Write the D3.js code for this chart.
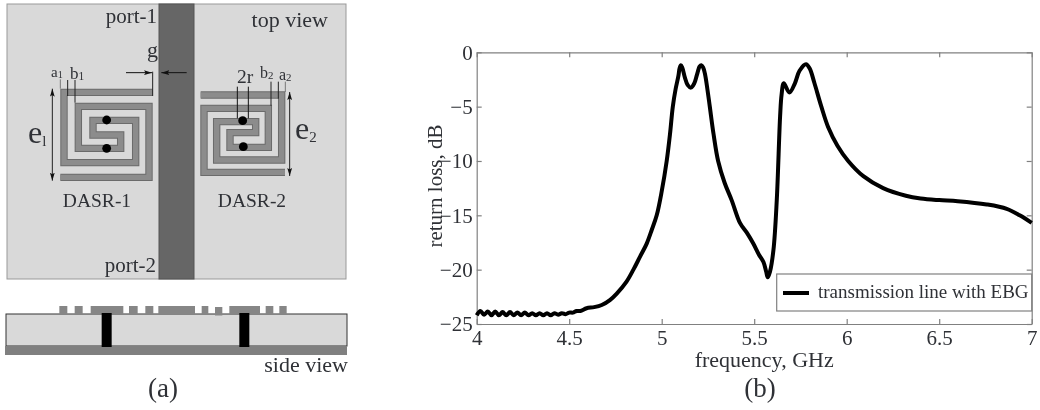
<!DOCTYPE html>
<html lang="en">
<head>
<meta charset="UTF-8">
<title>EBG transmission line</title>
<script src="https://cdn.jsdelivr.net/npm/d3@7"></script>
<style>
  html, body { margin: 0; padding: 0; background: #fff; }
  svg { display: block; filter: blur(0.45px); }
  text { font-family: "Liberation Serif", serif; fill: #2f3136; }
</style>
</head>
<body>
<script>
// curve
var frequency = [4.00,4.02,4.04,4.06,4.08,4.10,4.12,4.14,4.16,4.18,4.20,4.22,4.24,4.26,4.28,4.30,
  4.32,4.34,4.36,4.38,4.40,4.42,4.44,4.46,4.48,4.50,4.52,4.54,4.56,4.594,4.635,4.676,4.72,4.757,4.81,
  4.847,4.883,4.919,4.946,4.973,5.00,5.027,5.045,5.06,5.075,5.09,5.097,5.104,5.111,5.125,5.14,5.158,5.175,5.19,5.205,5.214,5.224,5.234,5.247,
  5.26,5.28,5.305,5.34,5.378,5.423,5.46,5.495,5.525,5.55,5.565,5.573,5.585,5.604,5.622,5.64,5.648,5.66,5.69,
  5.72,5.745,5.78,5.80,5.825,5.863,5.90,5.95,6.008,6.09,6.197,6.32,6.40,6.50,6.60,6.757,6.865,6.935,7.0];
var returnLoss = [-24.2,-23.8,-24.15,-23.85,-24.2,-23.85,-24.2,-23.9,-24.2,-23.9,-24.2,-23.95,-24.2,-23.95,-24.2,-24.0,
  -24.2,-24.0,-24.2,-24.0,-24.2,-24.0,-24.15,-24.0,-24.1,-23.95,-23.95,-23.8,-23.8,-23.55,-23.45,-23.25,-22.8,-22.2,-21.1,
  -20.0,-18.8,-17.6,-16.35,-15.0,-12.8,-10.0,-7.5,-5.0,-3.4,-2.2,-1.45,-1.2,-1.4,-2.3,-3.0,-3.25,-2.9,-2.1,-1.3,-1.2,-1.4,-2.0,-3.4,
  -5.0,-7.5,-10.0,-12.0,-13.6,-15.7,-16.6,-17.6,-18.6,-19.3,-20.2,-20.7,-20.2,-18.2,-13.6,-5.9,-3.9,-2.85,-3.7,
  -2.85,-1.7,-1.1,-1.5,-2.8,-5.0,-6.9,-8.6,-10.0,-11.4,-12.5,-13.2,-13.45,-13.6,-13.7,-14.0,-14.4,-15.0,-15.7];
var xTicks = [4, 4.5, 5, 5.5, 6, 6.5, 7];
var yTicks = [0, -5, -10, -15, -20, -25];
var legendLabel = "transmission line with EBG";

// one continuous conductor each, centre lines of the double spirals
var spiral1 = [[458,277],[192,277],[192,488],[407,488],[407,361],[279,361],[279,405],[362,405],[362,445],[235,445],[235,319],[447,319],[447,532],[181,532]];
var spiral2 = [[602,285],[845,285],[845,480],[650,480],[650,365],[767,365],[767,398],[690,398],[690,442],[805,442],[805,325],[612,325],[612,517],[855,517]];
var sideStrips = [[178,202],[224,248],[272,370],[387,413],[436,460],[475,585],[605,625],[645,667],[688,780],[797,820],[838,860]];

var w = 1040, h = 410;
var svg = d3.select("body").append("svg").attr("width", w).attr("height", h);

svg.append("defs").selectAll("marker").data(["end", "start"]).enter().append("marker")
  .attr("id", d => "arrow-" + d)
  .attr("viewBox", "0 0 10 6").attr("refX", d => d == "end" ? 10 : 0).attr("refY", 3)
  .attr("markerWidth", 8).attr("markerHeight", 5).attr("markerUnits", "userSpaceOnUse")
  .attr("orient", "auto")
  .append("path")
  .attr("d", d => d == "end" ? "M0,0L10,3L0,6L2,3Z" : "M10,0L0,3L10,6L8,3Z")
  .attr("fill", "#111");

// ---- panel (a), the reference was measured in 3x zoom so divide by 3
var u = d3.scaleLinear().domain([0, 3]).range([0, 1]);
var a = svg.append("g");
var spiralLine = d3.line().x(d => u(d[0])).y(d => u(d[1]));

a.append("rect").attr("x", 7).attr("y", 4).attr("width", 339).attr("height", 275)
  .attr("fill", "#d9d9d9").attr("stroke", "#999");
a.append("rect").attr("x", 159).attr("y", 4).attr("width", 35).attr("height", 275)
  .attr("fill", "#666").attr("stroke", "#555");

[spiral1, spiral2].forEach(function (s) {
  a.append("path").attr("d", spiralLine(s)).attr("fill", "none").attr("stroke", "#6b6b6b").attr("stroke-width", 7.4);
  a.append("path").attr("d", spiralLine(s)).attr("fill", "none").attr("stroke", "#8c8c8c").attr("stroke-width", 5.4);
});

a.selectAll("circle.via").data([[320,360],[320,445],[728,362],[730,440]]).enter().append("circle")
  .attr("class", "via").attr("cx", d => u(d[0])).attr("cy", d => u(d[1])).attr("r", 4.4).attr("fill", "#000");

// dimension lines
function dim(x1, y1, x2, y2, color, ends) {
  var l = a.append("line").attr("x1", u(x1)).attr("y1", u(y1)).attr("x2", u(x2)).attr("y2", u(y2))
    .attr("stroke", color).attr("stroke-width", 1);
  if (ends == "both" || ends == "end") l.attr("marker-end", "url(#arrow-end)");
  if (ends == "both") l.attr("marker-start", "url(#arrow-start)");
}
dim(181,238,181,266,"#777");
dim(203,240,203,288,"#222");
dim(225,240,225,308,"#222");
dim(458,215,458,288,"#222");
dim(378,218,456,218,"#111","end");
dim(560,218,484,218,"#111","end");
dim(157,266,157,542,"#222","both");
dim(869,276,869,528,"#222","both");
dim(712,260,712,355,"#111");
dim(745,260,745,355,"#111");
dim(813,245,813,317,"#222");
dim(835,245,835,296,"#222");
dim(856,245,856,276,"#777");

function label(x, y, size, txt, anchor) {
  return a.append("text").attr("x", x).attr("y", y).attr("font-size", size)
    .attr("text-anchor", anchor || "start").text(txt);
}
function subLabel(x, y, size, main, sub, subSize) {
  var t = label(x, y, size, main);
  t.append("tspan").attr("font-size", subSize || size * 0.68).attr("dy", size * 0.08).text(sub);
}
label(157, 23, 21, "port-1", "end");
label(328, 27, 22, "top view", "end");
label(156, 272, 21, "port-2", "end");
label(147, 57, 22, "g");
subLabel(51, 77, 15, "a", "1");
subLabel(70, 79, 17, "b", "1");
label(237, 83, 19.5, "2r");
subLabel(260, 78, 16, "b", "2");
subLabel(279, 80, 16, "a", "2");
subLabel(28, 143, 32, "e", "l", 15);
subLabel(295, 139, 32, "e", "2", 15);
label(97, 207, 19.5, "DASR-1", "middle");
label(252, 207, 19.5, "DASR-2", "middle");

// side view
a.append("rect").attr("x", 6).attr("y", 314).attr("width", 341).attr("height", 32)
  .attr("fill", "#d9d9d9").attr("stroke", "#333");
a.append("rect").attr("x", 5).attr("y", 346).attr("width", 342).attr("height", 9).attr("fill", "#808080");
a.selectAll("rect.strip").data(sideStrips).enter().append("rect").attr("class", "strip")
  .attr("x", d => u(d[0])).attr("width", d => u(d[1] - d[0]))
  .attr("y", (d, i) => i == 7 ? 307 : 306).attr("height", 8.5).attr("fill", "#868686");
a.selectAll("rect.post").data([305, 718]).enter().append("rect").attr("class", "post")
  .attr("x", d => u(d)).attr("width", 10).attr("y", 313).attr("height", 34).attr("fill", "#000");
label(348, 372, 22, "side view", "end");
label(163, 397, 27, "(a)", "middle");

// ---- panel (b)
var left = 476.7, right = 1031.7, top_ = 52.3, bottom = 324;
var x = d3.scaleLinear().domain([4, 7]).range([left, right]);
var y = d3.scaleLinear().domain([-25, 0]).range([bottom, top_]);
var b = svg.append("g");

function fmt(d) { return String(d).replace("-", "\u2212"); }

function styleAxis(g) {
  g.selectAll("path, line").attr("stroke", "#808080").attr("stroke-width", 1.2);
  g.selectAll("text").attr("font-family", "Liberation Serif").attr("font-size", 21).attr("fill", "#2f3136");
}
b.append("g").attr("transform", "translate(0," + bottom + ")")
  .call(d3.axisBottom(x).tickValues(xTicks).tickFormat(fmt).tickSizeInner(-5).tickSizeOuter(0).tickPadding(6))
  .call(styleAxis);
b.append("g").attr("transform", "translate(" + left + ",0)")
  .call(d3.axisLeft(y).tickValues(yTicks).tickFormat(fmt).tickSizeInner(-5).tickSizeOuter(0).tickPadding(4))
  .call(styleAxis);
b.append("g").attr("transform", "translate(0," + top_ + ")")
  .call(d3.axisTop(x).tickValues(xTicks).tickFormat("").tickSizeInner(-5).tickSizeOuter(0))
  .call(styleAxis);
b.append("g").attr("transform", "translate(" + right + ",0)")
  .call(d3.axisRight(y).tickValues(yTicks).tickFormat("").tickSizeInner(-5).tickSizeOuter(0))
  .call(styleAxis);

var line = d3.line().x(d => x(d[0])).y(d => y(d[1])).curve(d3.curveCatmullRom.alpha(0.5));
b.append("path").datum(d3.zip(frequency, returnLoss))
  .attr("d", line).attr("fill", "none").attr("stroke", "#000")
  .attr("stroke-width", 4).attr("stroke-linejoin", "round");

b.append("text").attr("x", x(5.5) + 10).attr("y", 367).attr("text-anchor", "middle").attr("font-size", 22).text("frequency, GHz");
b.append("text").attr("transform", "translate(442,186) rotate(-90)").attr("text-anchor", "middle").attr("font-size", 21).text("return loss, dB");
b.append("text").attr("x", 760).attr("y", 397).attr("text-anchor", "middle").attr("font-size", 27).text("(b)");

// legend
var leg = b.append("g");
leg.append("rect").attr("x", 776.7).attr("y", 274).attr("width", 255).attr("height", 37)
  .attr("fill", "#fff").attr("stroke", "#808080").attr("stroke-width", 1.2);
leg.append("line").attr("x1", 783).attr("x2", 809).attr("y1", 293).attr("y2", 293)
  .attr("stroke", "#000").attr("stroke-width", 4);
leg.append("text").attr("x", 818).attr("y", 298).attr("font-size", 19).text(legendLabel);
</script>
</body>
</html>
